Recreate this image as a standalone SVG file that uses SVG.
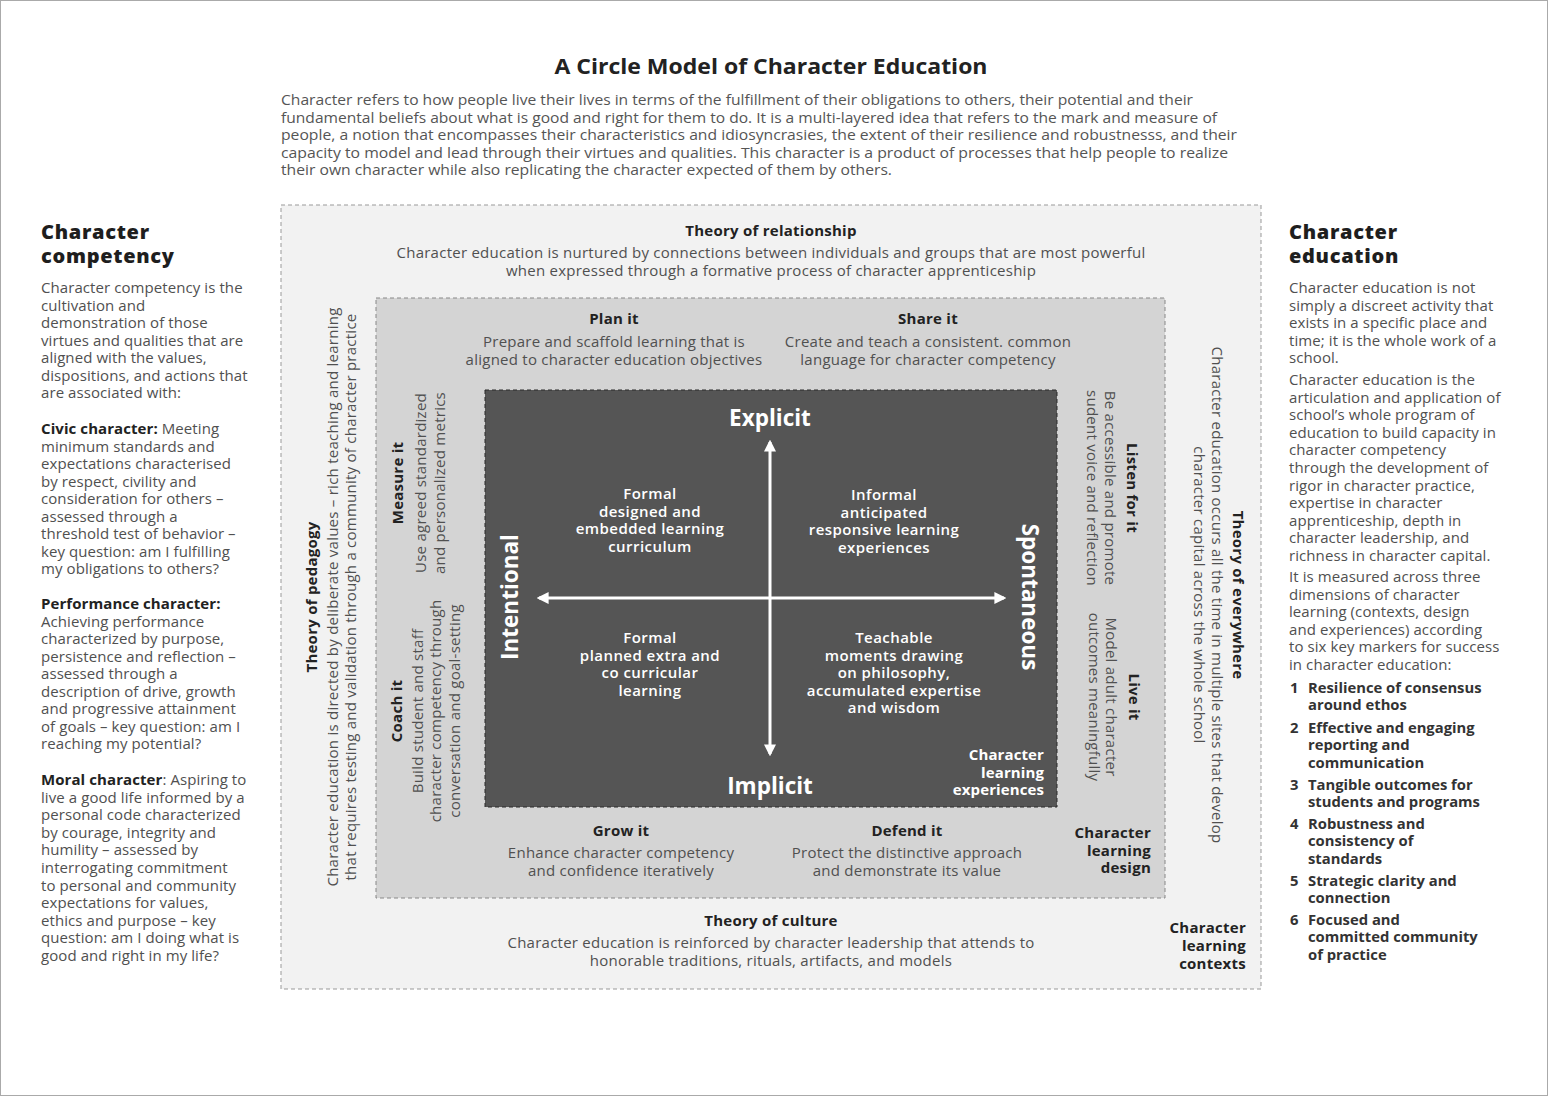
<svg xmlns="http://www.w3.org/2000/svg" width="1548" height="1096" viewBox="0 0 1548 1096">
<style>
text{font-family:"Open Sans",Lato,"Liberation Sans",sans-serif;font-size:15px;letter-spacing:0.25px;fill:#505050}
.col{font-size:15px;letter-spacing:0.08px}
.b{font-weight:bold;fill:#222}
.m{text-anchor:middle}
.e{text-anchor:end}
.wb{fill:#fff;font-weight:600;font-size:15px;letter-spacing:0.45px}
.h{font-size:20px;font-weight:800;fill:#1e1e1e;letter-spacing:0.7px}
.big{font-size:22.5px;font-weight:bold;fill:#fff;letter-spacing:0}
.intro{font-size:15px;fill:#555;letter-spacing:0}
.li{font-weight:bold;fill:#333;font-size:14.8px;letter-spacing:0}
.dash{stroke-dasharray:4 3;stroke-width:1}
</style>
<defs>
<marker id="ah" viewBox="0 0 10 10" refX="8" refY="5" markerWidth="4" markerHeight="4" orient="auto-start-reverse" markerUnits="strokeWidth">
<path d="M0,0 L10,5 L0,10 z" fill="#fff"/>
</marker>
</defs>
<rect x="0.5" y="0.5" width="1547" height="1095" fill="#fff" stroke="#aaa"/>

<g id="title">
<text x="771" y="74" class="m" style="font-size:22px;font-weight:bold;fill:#222;letter-spacing:0" textLength="433" lengthAdjust="spacingAndGlyphs">A Circle Model of Character Education</text>
</g>
<g id="intro">
<text x="281" y="105" class="intro" textLength="912" lengthAdjust="spacingAndGlyphs">Character refers to how people live their lives in terms of the fulfillment of their obligations to others, their potential and their</text>
<text x="281" y="122.5" class="intro" textLength="936" lengthAdjust="spacingAndGlyphs">fundamental beliefs about what is good and right for them to do. It is a multi-layered idea that refers to the mark and measure of</text>
<text x="281" y="140" class="intro" textLength="956" lengthAdjust="spacingAndGlyphs">people, a notion that encompasses their characteristics and idiosyncrasies, the extent of their resilience and robustnesss, and their</text>
<text x="281" y="157.5" class="intro" textLength="947" lengthAdjust="spacingAndGlyphs">capacity to model and lead through their virtues and qualities. This character is a product of processes that help people to realize</text>
<text x="281" y="175" class="intro" textLength="611" lengthAdjust="spacingAndGlyphs">their own character while also replicating the character expected of them by others.</text>
</g>

<g id="character-competency">
<text x="41" y="239" class="h"><tspan x="41">Character</tspan><tspan x="41" dy="24">competency</tspan></text>
<text x="41" y="293" class="col">
<tspan x="41">Character competency is the</tspan>
<tspan x="41" dy="17.5">cultivation and</tspan>
<tspan x="41" dy="17.5">demonstration of those</tspan>
<tspan x="41" dy="17.5">virtues and qualities that are</tspan>
<tspan x="41" dy="17.5">aligned with the values,</tspan>
<tspan x="41" dy="17.5">dispositions, and actions that</tspan>
<tspan x="41" dy="17.5">are associated with:</tspan>
</text>
<text x="41" y="434" class="col">
<tspan x="41" class="b">Civic character:</tspan><tspan> Meeting</tspan>
<tspan x="41" dy="17.5">minimum standards and</tspan>
<tspan x="41" dy="17.5">expectations characterised</tspan>
<tspan x="41" dy="17.5">by respect, civility and</tspan>
<tspan x="41" dy="17.5">consideration for others –</tspan>
<tspan x="41" dy="17.5">assessed through a</tspan>
<tspan x="41" dy="17.5">threshold test of behavior –</tspan>
<tspan x="41" dy="17.5">key question: am I fulfilling</tspan>
<tspan x="41" dy="17.5">my obligations to others?</tspan>
</text>
<text x="41" y="609" class="col">
<tspan x="41" class="b">Performance character:</tspan>
<tspan x="41" dy="17.5">Achieving performance</tspan>
<tspan x="41" dy="17.5">characterized by purpose,</tspan>
<tspan x="41" dy="17.5">persistence and reflection –</tspan>
<tspan x="41" dy="17.5">assessed through a</tspan>
<tspan x="41" dy="17.5">description of drive, growth</tspan>
<tspan x="41" dy="17.5">and progressive attainment</tspan>
<tspan x="41" dy="17.5">of goals – key question: am I</tspan>
<tspan x="41" dy="17.5">reaching my potential?</tspan>
</text>
<text x="41" y="785" class="col">
<tspan x="41" class="b">Moral character</tspan><tspan>: Aspiring to</tspan>
<tspan x="41" dy="17.6">live a good life informed by a</tspan>
<tspan x="41" dy="17.6">personal code characterized</tspan>
<tspan x="41" dy="17.6">by courage, integrity and</tspan>
<tspan x="41" dy="17.6">humility – assessed by</tspan>
<tspan x="41" dy="17.6">interrogating commitment</tspan>
<tspan x="41" dy="17.6">to personal and community</tspan>
<tspan x="41" dy="17.6">expectations for values,</tspan>
<tspan x="41" dy="17.6">ethics and purpose – key</tspan>
<tspan x="41" dy="17.6">question: am I doing what is</tspan>
<tspan x="41" dy="17.6">good and right in my life?</tspan>
</text>
</g>

<g id="character-education">
<text x="1289" y="239" class="h"><tspan x="1289">Character</tspan><tspan x="1289" dy="24">education</tspan></text>
<text x="1289" y="293" class="col">
<tspan x="1289">Character education is not</tspan>
<tspan x="1289" dy="17.5">simply a discreet activity that</tspan>
<tspan x="1289" dy="17.5">exists in a specific place and</tspan>
<tspan x="1289" dy="17.5">time; it is the whole work of a</tspan>
<tspan x="1289" dy="17.5">school.</tspan>
</text>
<text x="1289" y="385" class="col">
<tspan x="1289">Character education is the</tspan>
<tspan x="1289" dy="17.6">articulation and application of</tspan>
<tspan x="1289" dy="17.6">school’s whole program of</tspan>
<tspan x="1289" dy="17.6">education to build capacity in</tspan>
<tspan x="1289" dy="17.6">character competency</tspan>
<tspan x="1289" dy="17.6">through the development of</tspan>
<tspan x="1289" dy="17.6">rigor in character practice,</tspan>
<tspan x="1289" dy="17.6">expertise in character</tspan>
<tspan x="1289" dy="17.6">apprenticeship, depth in</tspan>
<tspan x="1289" dy="17.6">character leadership, and</tspan>
<tspan x="1289" dy="17.6">richness in character capital.</tspan>
</text>
<text x="1289" y="582" class="col">
<tspan x="1289">It is measured across three</tspan>
<tspan x="1289" dy="17.6">dimensions of character</tspan>
<tspan x="1289" dy="17.6">learning (contexts, design</tspan>
<tspan x="1289" dy="17.6">and experiences) according</tspan>
<tspan x="1289" dy="17.6">to six key markers for success</tspan>
<tspan x="1289" dy="17.6">in character education:</tspan>
</text>
<g class="list">
<text x="1290" y="693" class="li">1</text>
<text x="1308" y="693" class="li"><tspan x="1308">Resilience of consensus</tspan><tspan x="1308" dy="17.3">around ethos</tspan></text>
<text x="1290" y="733" class="li">2</text>
<text x="1308" y="733" class="li"><tspan x="1308">Effective and engaging</tspan><tspan x="1308" dy="17.3">reporting and</tspan><tspan x="1308" dy="17.3">communication</tspan></text>
<text x="1290" y="790" class="li">3</text>
<text x="1308" y="790" class="li"><tspan x="1308">Tangible outcomes for</tspan><tspan x="1308" dy="17.3">students and programs</tspan></text>
<text x="1290" y="829" class="li">4</text>
<text x="1308" y="829" class="li"><tspan x="1308">Robustness and</tspan><tspan x="1308" dy="17.3">consistency of</tspan><tspan x="1308" dy="17.3">standards</tspan></text>
<text x="1290" y="886" class="li">5</text>
<text x="1308" y="886" class="li"><tspan x="1308">Strategic clarity and</tspan><tspan x="1308" dy="17.3">connection</tspan></text>
<text x="1290" y="925" class="li">6</text>
<text x="1308" y="925" class="li"><tspan x="1308">Focused and</tspan><tspan x="1308" dy="17.3">committed community</tspan><tspan x="1308" dy="17.3">of practice</tspan></text>
</g>
</g>

<g id="contexts">
<rect x="281" y="205" width="980" height="784" fill="#f2f2f2" stroke="#999" class="dash"/>
<text x="771" y="236" class="m b">Theory of relationship</text>
<text x="771" y="258" class="m">Character education is nurtured by connections between individuals and groups that are most powerful</text>
<text x="771" y="275.5" class="m">when expressed through a formative process of character apprenticeship</text>
<text x="771" y="926" class="m b">Theory of culture</text>
<text x="771" y="948" class="m">Character education is reinforced by character leadership that attends to</text>
<text x="771" y="965.5" class="m">honorable traditions, rituals, artifacts, and models</text>
<g transform="translate(317,597) rotate(-90)"><text x="0" y="0" class="m b">Theory of pedagogy</text></g>
<g transform="translate(338,597) rotate(-90)"><text x="0" y="0" class="m">Character education is directed by deliberate values – rich teaching and learning</text></g>
<g transform="translate(356,597) rotate(-90)"><text x="0" y="0" class="m">that requires testing and validation through a community of character practice</text></g>
<g transform="translate(1233,595) rotate(90)"><text x="0" y="0" class="m b">Theory of everywhere</text></g>
<g transform="translate(1212,595) rotate(90)"><text x="0" y="0" class="m">Character education occurs all the time in multiple sites that develop</text></g>
<g transform="translate(1194,595) rotate(90)"><text x="0" y="0" class="m">character capital across the whole school</text></g>
<text x="1246" y="933" class="e b"><tspan x="1246">Character</tspan><tspan x="1246" dy="18">learning</tspan><tspan x="1246" dy="18">contexts</tspan></text>
</g>

<g id="design">
<rect x="376" y="298" width="789" height="600" fill="#d4d4d4" stroke="#888" class="dash"/>
<text x="614" y="324" class="m b">Plan it</text>
<text x="614" y="347" class="m">Prepare and scaffold learning that is</text>
<text x="614" y="365" class="m">aligned to character education objectives</text>
<text x="928" y="324" class="m b">Share it</text>
<text x="928" y="347" class="m">Create and teach a consistent. common</text>
<text x="928" y="365" class="m">language for character competency</text>
<text x="621" y="836" class="m b">Grow it</text>
<text x="621" y="858" class="m">Enhance character competency</text>
<text x="621" y="876" class="m">and confidence iteratively</text>
<text x="907" y="836" class="m b">Defend it</text>
<text x="907" y="858" class="m">Protect the distinctive approach</text>
<text x="907" y="876" class="m">and demonstrate its value</text>
<text x="1151" y="838" class="e b"><tspan x="1151">Character</tspan><tspan x="1151" dy="17.5">learning</tspan><tspan x="1151" dy="17.5">design</tspan></text>
<g transform="translate(403,483) rotate(-90)"><text class="m b">Measure it</text></g>
<g transform="translate(426,483) rotate(-90)"><text class="m">Use agreed standardized</text></g>
<g transform="translate(445,483) rotate(-90)"><text class="m">and personalized metrics</text></g>
<g transform="translate(402,711) rotate(-90)"><text class="m b">Coach it</text></g>
<g transform="translate(423,711) rotate(-90)"><text class="m">Build student and staff</text></g>
<g transform="translate(441,711) rotate(-90)"><text class="m">character competency through</text></g>
<g transform="translate(460,711) rotate(-90)"><text class="m">conversation and goal-setting</text></g>
<g transform="translate(1127,488) rotate(90)"><text class="m b">Listen for it</text></g>
<g transform="translate(1105,488) rotate(90)"><text class="m">Be accessible and promote</text></g>
<g transform="translate(1087,488) rotate(90)"><text class="m">sudent voice and reflection</text></g>
<g transform="translate(1129,697) rotate(90)"><text class="m b">Live it</text></g>
<g transform="translate(1106,697) rotate(90)"><text class="m">Model adult character</text></g>
<g transform="translate(1089,697) rotate(90)"><text class="m">outcomes meaningfully</text></g>
</g>

<g id="experiences">
<rect x="485" y="390" width="572" height="417" fill="#555" stroke="#2a2a2a" class="dash"/>
<text x="770" y="426" class="m big">Explicit</text>
<text x="770" y="794" class="m big">Implicit</text>
<g transform="translate(518,597) rotate(-90)"><text class="m big">Intentional</text></g>
<g transform="translate(1022,597) rotate(90)"><text class="m big">Spontaneous</text></g>
<text x="650" y="499" class="m wb"><tspan x="650">Formal</tspan><tspan x="650" dy="17.6">designed and</tspan><tspan x="650" dy="17.6">embedded learning</tspan><tspan x="650" dy="17.6">curriculum</tspan></text>
<text x="884" y="500" class="m wb"><tspan x="884">Informal</tspan><tspan x="884" dy="17.6">anticipated</tspan><tspan x="884" dy="17.6">responsive learning</tspan><tspan x="884" dy="17.6">experiences</tspan></text>
<text x="650" y="643" class="m wb"><tspan x="650">Formal</tspan><tspan x="650" dy="17.6">planned extra and</tspan><tspan x="650" dy="17.6">co curricular</tspan><tspan x="650" dy="17.6">learning</tspan></text>
<text x="894" y="643" class="m wb"><tspan x="894">Teachable</tspan><tspan x="894" dy="17.6">moments drawing</tspan><tspan x="894" dy="17.6">on philosophy,</tspan><tspan x="894" dy="17.6">accumulated expertise</tspan><tspan x="894" dy="17.6">and wisdom</tspan></text>
<text x="1044" y="760" class="e wb" style="font-weight:bold;letter-spacing:0.1px"><tspan x="1044">Character</tspan><tspan x="1044" dy="17.6">learning</tspan><tspan x="1044" dy="17.6">experiences</tspan></text>
</g>

<g id="connectors" stroke="#fff" stroke-width="3" fill="none">
<line x1="770" y1="442" x2="770" y2="754" marker-start="url(#ah)" marker-end="url(#ah)"/>
<line x1="539" y1="598" x2="1004" y2="598" marker-start="url(#ah)" marker-end="url(#ah)"/>
</g>
</svg>
